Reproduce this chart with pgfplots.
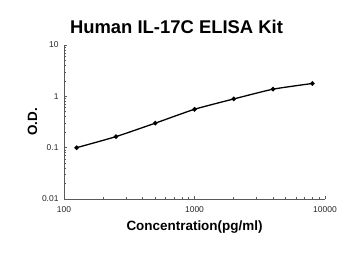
\documentclass[border=0pt]{standalone}
\usepackage{fontspec}
\setmainfont{Liberation Sans}
\usepackage{pgfplots}
\pgfplotsset{compat=1.18}
\begin{document}
\begin{tikzpicture}[x=1bp,y=1bp]
\begin{axis}[
  at={(0,0)}, anchor=south west,
  scale only axis,
  width=261bp, height=154bp,
  xmode=log, ymode=log,
  xmin=100, xmax=10000, ymin=0.01, ymax=10,
  axis x line*=bottom, axis y line*=left,
  axis line style={draw=black!65, line width=0.8pt},
  tick style={draw=black!65, line width=0.6pt},
  tick align=inside,
  major tick length=3bp, minor tick length=2.5bp,
  xtick={100,1000,10000}, ytick={0.01,0.1,1,10},
  xticklabels={100,1000,10000}, yticklabels={0.01,0.1,1,10},
  /pgf/number format/assume math mode=true,
  log identify minor tick positions=true,
  tick label style={font=\fontsize{8.5}{10}\selectfont, text=black!85},
  xticklabel style={yshift=-4bp},
  yticklabel style={xshift=-2bp},
  xlabel={\textbf{Concentration(pg/ml)}},
  ylabel={\textbf{O.D.}},
  label style={font=\fontsize{13.5}{16}\selectfont},
  xlabel style={yshift=-1bp},
  ylabel style={yshift=-2bp},
  title={\textbf{Human IL-17C ELISA Kit}},
  title style={font=\fontsize{18.5}{21}\selectfont, yshift=2bp, xshift=-18bp},
  clip=false,
]
\addplot[black, line width=1.3pt, smooth, tension=0.3, mark=*, mark size=1.6pt]
coordinates {(125,0.100) (250,0.164) (500,0.30) (1000,0.56) (2000,0.89) (4000,1.38) (8000,1.78)};
\end{axis}
\path (-64bp,-56bp) rectangle (286bp,199bp);
\end{tikzpicture}
\end{document}
